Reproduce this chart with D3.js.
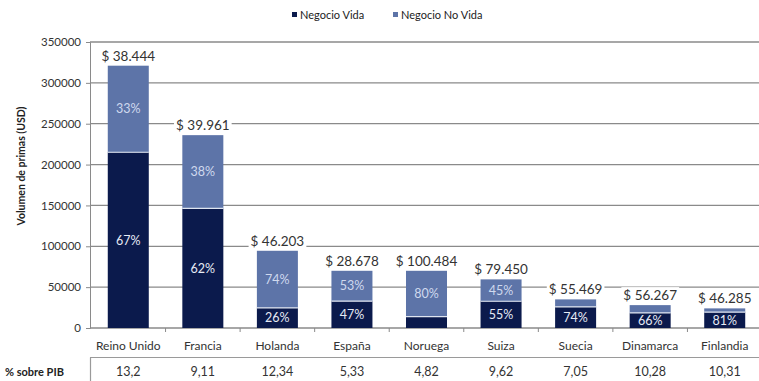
<!DOCTYPE html>
<html>
<head>
<meta charset="utf-8">
<script src="https://cdn.jsdelivr.net/npm/d3@7/dist/d3.min.js"></script>
<style>
  html, body { margin: 0; padding: 0; background: #fff; }
  svg { display: block; font-family: Lato, "Open Sans", sans-serif; }
</style>
</head>
<body>
<svg id="chart" width="759" height="381"></svg>
<script>
// Premium volume by country, split into life / non-life business
const countries = ["Reino Unido", "Francia", "Holanda", "España", "Noruega", "Suiza", "Suecia", "Dinamarca", "Finlandia"];
const totalPremiums = [321000, 236000, 94500, 70000, 70000, 59500, 35000, 28000, 24000];
const vidaPct = [67, 62, 26, 47, 20, 55, 74, 66, 81];
const showVidaLabel = [true, true, true, true, false, true, true, true, true];
const showNoVidaLabel = [true, true, true, true, true, true, false, false, false];
const perCapita = ["$ 38.444", "$ 39.961", "$ 46.203", "$ 28.678", "$ 100.484", "$ 79.450", "$ 55.469", "$ 56.267", "$ 46.285"];
const pibPct = ["13,2", "9,11", "12,34", "5,33", "4,82", "9,62", "7,05", "10,28", "10,31"];
const yTicks = [0, 50000, 100000, 150000, 200000, 250000, 300000, 350000];
const seriesNames = ["Negocio Vida", "Negocio No Vida"];

const colVida = "#0b1a4c";
const colNoVida = "#5d74a8";

const svg = d3.select("#chart");

const x = d3.scaleBand().domain(countries).range([91, 762]).paddingInner(0.45).paddingOuter(0.225);
const y = d3.scaleLinear().domain([0, 350000]).range([328, 42]);

const rows = countries.map((c, i) => {
  const vida = totalPremiums[i] * vidaPct[i] / 100;
  return { country: c, vida, noVida: totalPremiums[i] - vida, i };
});

// Horizontal gridlines
svg.append("g")
  .selectAll("line")
  .data(yTicks.filter(d => d > 0))
  .join("line")
  .attr("x1", 90).attr("x2", 759)
  .attr("y1", d => y(d)).attr("y2", d => y(d))
  .attr("stroke", "#8a8a8a").attr("stroke-width", 1.3);

// Y axis
const yAxis = svg.append("g")
  .attr("transform", "translate(90,0)")
  .call(d3.axisLeft(y).tickValues(yTicks).tickSize(4).tickPadding(5).tickFormat(d3.format("d")));
yAxis.select(".domain").attr("stroke", "#8a8a8a");
yAxis.selectAll(".tick line").attr("stroke", "#8a8a8a");
yAxis.selectAll("text").attr("font-size", 11.5).attr("fill", "#333").attr("font-family", "Lato, sans-serif");

// Y axis title
svg.append("text")
  .attr("transform", "translate(25,166) rotate(-90)")
  .attr("text-anchor", "middle")
  .attr("font-size", 10.5).attr("font-weight", "bold").attr("fill", "#222")
  .text("Volumen de primas (USD)");

// Category axis
const xAxis = svg.append("g").attr("transform", "translate(0,328)");
xAxis.append("line").attr("x1", 90).attr("x2", 759).attr("y1", 0).attr("y2", 0)
  .attr("stroke", "#8a8a8a").attr("stroke-width", 1.3);
xAxis.selectAll("line.sep")
  .data(countries.slice(1))
  .join("line").attr("class", "sep")
  .attr("x1", d => x(d) - x.step() * x.paddingInner() / 2)
  .attr("x2", d => x(d) - x.step() * x.paddingInner() / 2)
  .attr("y1", 0).attr("y2", 4)
  .attr("stroke", "#8a8a8a");
xAxis.selectAll("text")
  .data(countries)
  .join("text")
  .attr("x", d => x(d) + x.bandwidth() / 2)
  .attr("y", 22)
  .attr("text-anchor", "middle")
  .attr("font-size", 12).attr("fill", "#333")
  .text(d => d);

// Stacked bars
const bars = svg.append("g");
bars.selectAll("rect.vida")
  .data(rows)
  .join("rect").attr("class", "vida")
  .attr("x", d => x(d.country)).attr("width", x.bandwidth())
  .attr("y", d => y(d.vida)).attr("height", d => y(0) - y(d.vida))
  .attr("fill", colVida);
bars.selectAll("rect.novida")
  .data(rows)
  .join("rect").attr("class", "novida")
  .attr("x", d => x(d.country)).attr("width", x.bandwidth())
  .attr("y", d => y(d.vida + d.noVida)).attr("height", d => y(d.vida) - y(d.vida + d.noVida))
  .attr("fill", colNoVida);
// Separator between segments
bars.selectAll("line.split")
  .data(rows)
  .join("line").attr("class", "split")
  .attr("x1", d => x(d.country)).attr("x2", d => x(d.country) + x.bandwidth())
  .attr("y1", d => y(d.vida)).attr("y2", d => y(d.vida))
  .attr("stroke", "#dfe5f0").attr("stroke-width", 1.2);

// Percentage labels inside segments
bars.selectAll("text.vida")
  .data(rows.filter(d => showVidaLabel[d.i]))
  .join("text").attr("class", "vida")
  .attr("x", d => x(d.country) + x.bandwidth() / 2)
  .attr("y", d => (y(0) + y(d.vida)) / 2 + 4.5)
  .attr("text-anchor", "middle")
  .attr("font-size", 12.5).attr("fill", "#e6ebf5")
  .text(d => vidaPct[d.i] + "%");
bars.selectAll("text.novida")
  .data(rows.filter(d => showNoVidaLabel[d.i]))
  .join("text").attr("class", "novida")
  .attr("x", d => x(d.country) + x.bandwidth() / 2)
  .attr("y", d => (y(d.vida) + y(d.vida + d.noVida)) / 2 + 4.5)
  .attr("text-anchor", "middle")
  .attr("font-size", 12.5).attr("fill", "#cfd9ee")
  .text(d => (100 - vidaPct[d.i]) + "%");

// Per-capita labels above each bar, on a white backing
const capLabels = svg.append("g").selectAll("g")
  .data(rows)
  .join("g")
  .attr("transform", d => `translate(${x(d.country) + x.bandwidth() / 2},${y(d.vida + d.noVida) - 5})`);
capLabels.append("text")
  .attr("text-anchor", "middle")
  .attr("font-size", 13.5).attr("fill", "#333")
  .text(d => perCapita[d.i]);
capLabels.each(function () {
  const g = d3.select(this);
  const b = g.select("text").node().getBBox();
  g.insert("rect", "text")
    .attr("x", b.x - 2).attr("y", b.y)
    .attr("width", b.width + 4).attr("height", b.height)
    .attr("fill", "#fff");
});

// Data table row: share of GDP
svg.append("line").attr("x1", 90).attr("x2", 759).attr("y1", 357.5).attr("y2", 357.5)
  .attr("stroke", "#9a9a9a").attr("stroke-width", 1.2);
svg.append("line").attr("x1", 90.5).attr("x2", 90.5).attr("y1", 357.5).attr("y2", 381)
  .attr("stroke", "#9a9a9a").attr("stroke-width", 1.2);
svg.append("text")
  .attr("x", 5).attr("y", 376)
  .attr("font-size", 11).attr("font-weight", "bold").attr("fill", "#222")
  .text("% sobre PIB");
svg.append("g").selectAll("text")
  .data(countries)
  .join("text")
  .attr("x", d => x(d) + x.bandwidth() / 2)
  .attr("y", 376)
  .attr("text-anchor", "middle")
  .attr("font-size", 12.5).attr("fill", "#333")
  .text((d, i) => pibPct[i]);

// Legend
const legend = svg.append("g").attr("transform", "translate(292,15)");
const li = legend.selectAll("g")
  .data(seriesNames)
  .join("g")
  .attr("transform", (d, i) => `translate(${i * 101},0)`);
li.append("rect").attr("x", 0).attr("y", -3).attr("width", 5).attr("height", 5)
  .attr("fill", (d, i) => i === 0 ? colVida : colNoVida);
li.append("text").attr("x", 8).attr("y", 3.5)
  .attr("font-size", 11).attr("fill", "#222")
  .text(d => d);
</script>
</body>
</html>
